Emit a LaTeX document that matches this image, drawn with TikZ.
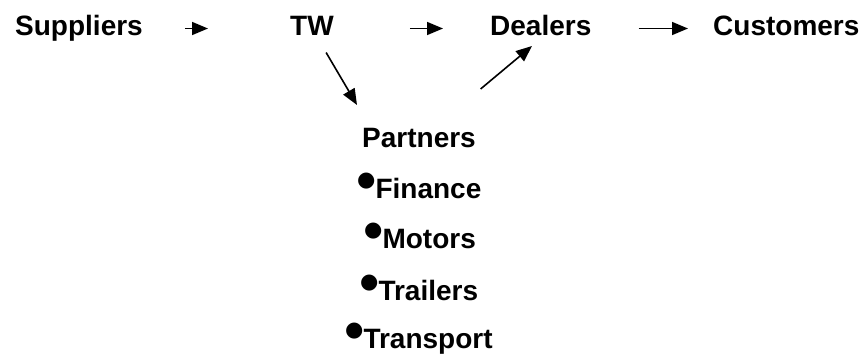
\documentclass[tikz,border=0pt]{standalone}
\usepackage{fontspec}
\setmainfont{Liberation Sans}
\newfontfamily\dotfont{DejaVu Sans}
\usetikzlibrary{arrows.meta,positioning}

\newcommand{\pdot}{\raisebox{12pt}{\dotfont\fontsize{21}{21}\selectfont ●}}

\tikzset{
  lbl/.style={inner sep=0pt, font=\fontsize{28}{32}\selectfont\bfseries,
    text height=20pt, text depth=7pt},
  arr/.style={line width=1.6pt, -{Triangle[length=16pt,width=13pt]}}
}

\begin{document}
\begin{tikzpicture}[x=1pt,y=-1pt]
            \useasboundingbox (0,0) rectangle (860,356);

            % chain
            \node[lbl, anchor=base west] (supp) at (15,35) {Suppliers};
            \node[lbl, anchor=base west] (tw) at (290,35) {TW};
            \node[lbl, anchor=base west] (deal) at (490,35) {Dealers};
            \node[lbl, anchor=base west] (cust) at (713,35) {Customers};

            \draw[arr, shorten <=42pt, shorten >=82pt] (supp.east) -- (tw.west);
            \draw[arr, shorten <=76pt, shorten >=47pt] (tw.east) -- (deal.west);
            \draw[arr, shorten <=47pt, shorten >=25pt] (deal.east) -- (cust.west);

            % partners
            \node[lbl, anchor=base] (part) at (419,147) {Partners};
            \node[lbl, anchor=base west] (fin) at (357,198) {\pdot Finance};
            \node[lbl, anchor=base west] (mot) at (364,248) {\pdot Motors};
            \node[lbl, anchor=base west] (trl) at (360,300) {\pdot Trailers};
            \node[lbl, anchor=base west] (trn) at (345,348) {\pdot Transport};

            \coordinate (ptop) at (357,105);
            \coordinate (dtip) at (532,46);
            \draw[arr, shorten <=12pt] (tw) -- (ptop);
            \draw[arr, shorten <=59pt] (part) -- (dtip);
        \end{tikzpicture}
\end{document}
